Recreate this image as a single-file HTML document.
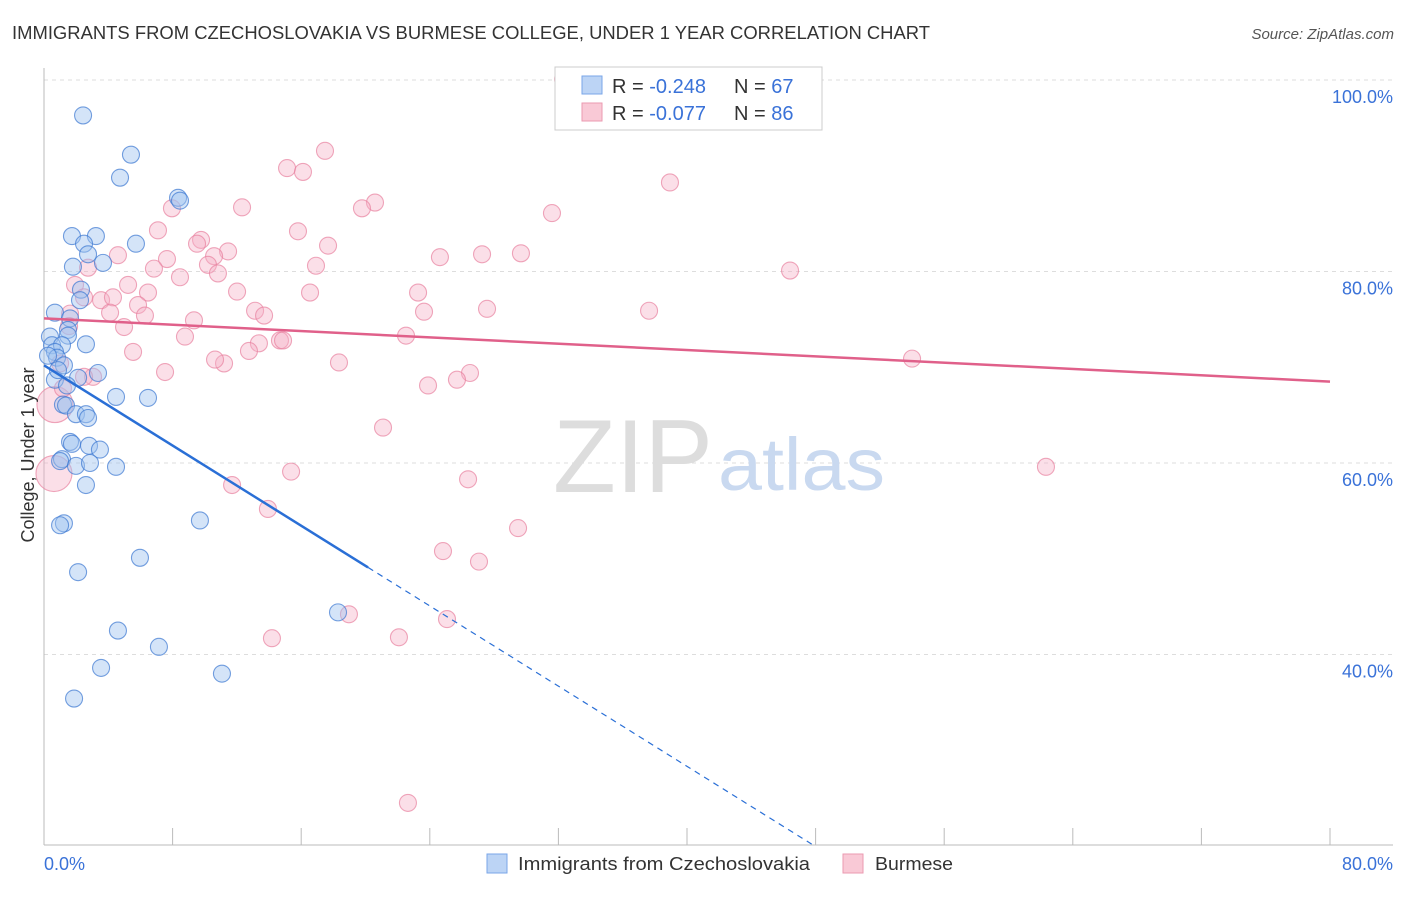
<!DOCTYPE html>
<html><head><meta charset="utf-8"><style>
body{margin:0;background:#fff;font-family:"Liberation Sans",sans-serif;}
svg text{font-family:"Liberation Sans",sans-serif;}
</style></head><body>
<svg width="1406" height="892" xmlns="http://www.w3.org/2000/svg">
<text x="12" y="39" font-size="18" fill="#333" textLength="918" lengthAdjust="spacingAndGlyphs">IMMIGRANTS FROM CZECHOSLOVAKIA VS BURMESE COLLEGE, UNDER 1 YEAR CORRELATION CHART</text>
<text x="1394" y="39" font-size="15" fill="#555" font-style="italic" text-anchor="end">Source: ZipAtlas.com</text>
<g id="grid"></g>
<g>
<text x="553" y="492" font-size="104" fill="#ddd" font-family="Liberation Serif,serif" textLength="160" lengthAdjust="spacingAndGlyphs">ZIP</text>
<text x="718" y="490" font-size="74" fill="#c9d9f0" textLength="167" lengthAdjust="spacingAndGlyphs">atlas</text>
</g>
<g id="pts"></g>
<g id="trends"></g>
<text x="34" y="455" font-size="18" fill="#333" text-anchor="middle" transform="rotate(-90 34 455)">College, Under 1 year</text>
<g>
<rect x="555" y="67" width="267" height="63" fill="#fff" stroke="#ccc"/>
<rect x="582" y="76" width="20" height="18" fill="#bcd4f5" stroke="#7aa6e8"/>
<rect x="582" y="103" width="20" height="18" fill="#f9c9d6" stroke="#eb9ab0"/>
<text x="612" y="93" font-size="20" fill="#333">R = <tspan fill="#3a72d8">-0.248</tspan><tspan x="734">N = </tspan><tspan fill="#3a72d8">67</tspan></text>
<text x="612" y="120" font-size="20" fill="#333">R = <tspan fill="#3a72d8">-0.077</tspan><tspan x="734">N = </tspan><tspan fill="#3a72d8">86</tspan></text>
</g>
<text x="44" y="870" font-size="18" fill="#3a72d8">0.0%</text>
<text x="1393" y="870" font-size="18" fill="#3a72d8" text-anchor="end">80.0%</text>
<g>
<rect x="487" y="854" width="20" height="19" fill="#bcd4f5" stroke="#7aa6e8"/>
<text x="518" y="870" font-size="18" fill="#333" textLength="292" lengthAdjust="spacingAndGlyphs">Immigrants from Czechoslovakia</text>
<rect x="843" y="854" width="20" height="19" fill="#f9c9d6" stroke="#eb9ab0"/>
<text x="875" y="870" font-size="18" fill="#333" textLength="78" lengthAdjust="spacingAndGlyphs">Burmese</text>
</g>
</svg>
<script>
const yTicks=[40,60,80,100];
const yTickLabels=["40.0%","60.0%","80.0%","100.0%"];
const xTickVals=[0,8,16,24,32,40,48,56,64,72,80];
const blueX=[2.43,5.41,4.73,8.34,8.46,1.74,3.23,2.49,5.72,2.74,1.80,3.67,2.30,2.24,0.68,1.62,1.49,1.49,0.37,2.61,0.50,1.12,0.68,0.81,2.12,3.36,0.68,1.43,4.48,6.47,1.18,1.37,1.99,2.61,2.74,1.62,1.74,2.80,3.48,1.12,1.00,1.99,2.86,4.48,2.61,1.24,1.00,9.70,5.97,2.12,4.60,7.15,3.55,11.07,1.87,18.29,1.24,0.87,0.25];
const blueY=[96.3,92.2,89.8,87.7,87.4,83.7,83.7,82.9,82.9,81.8,80.5,80.9,78.1,77.0,75.7,75.1,73.9,73.3,73.2,72.4,72.3,72.3,71.6,71.0,68.9,69.4,68.7,68.1,66.9,66.8,66.1,66.0,65.1,65.1,64.7,62.2,62.0,61.8,61.4,60.4,60.2,59.7,60.0,59.6,57.7,53.7,53.5,54.0,50.1,48.6,42.5,40.8,38.6,38.0,35.4,44.4,70.2,69.7,71.2];
const pinkX=[32.29,17.48,15.12,16.11,38.94,20.59,19.78,12.32,7.96,31.60,15.80,7.09,9.77,9.52,11.45,17.67,24.63,27.25,29.67,4.60,10.58,7.65,2.74,6.84,10.20,16.92,10.82,8.46,46.41,1.93,5.23,6.47,12.01,16.55,23.27,2.49,3.55,4.29,5.85,13.13,6.28,4.11,9.33,13.69,23.64,27.56,37.64,1.62,4.98,1.56,8.77,22.52,14.68,14.87,13.37,12.75,5.54,11.20,18.35,54.0,7.53,3.05,26.50,25.69,23.89,21.09,15.37,11.70,13.93,26.38,29.49,24.82,27.06,62.33,18.97,25.07,14.18,22.08,22.64,0.68,0.62,1.00,1.18,2.49,10.64];
const pinkY=[100.1,92.6,90.8,90.4,89.3,87.2,86.6,86.7,86.6,86.1,84.2,84.3,83.3,82.9,82.1,82.7,81.5,81.8,81.9,81.7,81.6,81.3,80.4,80.3,80.7,80.6,79.8,79.4,80.1,78.6,78.6,77.8,77.9,77.8,77.8,77.3,77.0,77.3,76.5,75.9,75.4,75.7,74.9,75.4,75.8,76.1,75.9,75.6,74.2,74.3,73.2,73.3,72.8,72.8,72.5,71.7,71.6,70.4,70.5,70.9,69.5,69.0,69.4,68.7,68.1,63.7,59.1,57.7,55.2,58.3,53.2,50.8,49.7,59.6,44.2,43.7,41.7,41.8,24.5,66.1,58.9,70.4,67.8,69.0,70.8];
const pinkTrend=[75.1,68.5];
const blueTrend=[70.2,-1.047];
const blueSolidEnd=20.16;

const NS="http://www.w3.org/2000/svg";
const xs=v=>44+v*16.075;
const ys=v=>80+(100-v)*9.575;
function mk(tag,attrs,parent){const e=document.createElementNS(NS,tag);for(const k in attrs)e.setAttribute(k,attrs[k]);parent.appendChild(e);return e;}
const grid=document.getElementById('grid');
yTicks.forEach((t,i)=>{
  const l=mk('line',{x1:44,x2:1393,y1:ys(t),y2:ys(t),stroke:'#ddd','stroke-dasharray':'4,4'},grid);
  
  
  const tx=mk('text',{x:1393,y:ys(t)+23,'font-size':18,fill:'#3a72d8','text-anchor':'end'},grid);
  tx.textContent=yTickLabels[i];
  
  
});
const ax=mk('line',{x1:44,x2:44,y1:68,y2:845,stroke:'#bbb'},grid);


const bx=mk('line',{x1:44,x2:1393,y1:845,y2:845,stroke:'#bbb'},grid);


xTickVals.forEach(v=>{
  const t=mk('line',{x1:xs(v),x2:xs(v),y1:828,y2:845,stroke:'#bbb'},grid);
  
  
});
const pts=document.getElementById('pts');
pinkX.forEach((x,i)=>{
  const big=(i>=79&&i<=80);
  const c=mk('circle',{cx:xs(x),cy:ys(pinkY[i]),r:big?18:8.5,fill:'rgba(246,176,198,0.4)',stroke:'rgba(232,130,160,0.7)','stroke-width':1.1},pts);
  
  
});
blueX.forEach((x,i)=>{
  const c=mk('circle',{cx:xs(x),cy:ys(blueY[i]),r:8.5,fill:'rgba(160,195,240,0.45)',stroke:'rgba(60,120,210,0.7)','stroke-width':1.1},pts);
  
  
});
const tr=document.getElementById('trends');
const pl=mk('line',{x1:xs(0),y1:ys(pinkTrend[0]),x2:xs(80),y2:ys(pinkTrend[1]),stroke:'#e0608a','stroke-width':2.5},tr);


const bEndY=blueTrend[0]+blueTrend[1]*blueSolidEnd;
const bl=mk('line',{x1:xs(0),y1:ys(blueTrend[0]),x2:xs(blueSolidEnd),y2:ys(bEndY),stroke:'#2a6fd6','stroke-width':2.5},tr);


const xEnd=(blueTrend[0]-20.2)/(-blueTrend[1]);
const bd=mk('line',{x1:xs(blueSolidEnd),y1:ys(bEndY),x2:xs(xEnd),y2:ys(20.2),stroke:'#2a6fd6','stroke-width':1.2,'stroke-dasharray':'6,5'},tr);


</script>
</body></html>
